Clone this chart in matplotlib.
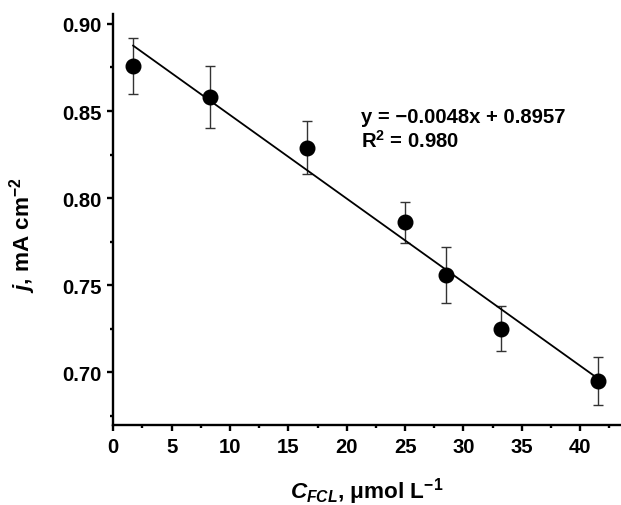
import numpy as np
import matplotlib.pyplot as plt
from matplotlib.ticker import MultipleLocator

plt.rcParams['font.family'] = 'Liberation Sans'
plt.rcParams['font.weight'] = 'bold'
plt.rcParams['mathtext.fontset'] = 'custom'
plt.rcParams['mathtext.rm'] = 'Liberation Sans:bold'
plt.rcParams['mathtext.it'] = 'Liberation Sans:bold:italic'
plt.rcParams['mathtext.bf'] = 'Liberation Sans:bold'

# data
conc = [1.7, 8.3, 16.6, 25.0, 28.5, 33.2, 41.5]
j = [0.876, 0.858, 0.829, 0.786, 0.756, 0.725, 0.695]
j_err = [0.016, 0.018, 0.015, 0.012, 0.016, 0.013, 0.014]
slope, intercept = -0.0048, 0.8957

fig = plt.figure(figsize=(6.21, 5.06), dpi=100)
ax = fig.add_axes([113.3/621, 1-426/506, 1-113.3/621, (426-15)/506])

ax.errorbar(conc, j, yerr=j_err, fmt='none', ecolor='#333333', elinewidth=1.0,
            capsize=3.5, capthick=1.0, zorder=2)
ax.plot(conc, j, 'o', color='black', markersize=10.5, zorder=3)
xf = np.array([conc[0], conc[-1]])
ax.plot(xf, slope*xf + intercept, '-', color='black', lw=1.3, zorder=2)

ax.text(21.2, 0.847, 'y = \u22120.0048x + 0.8957', fontsize=14.6, fontweight='bold', va='center')
ax.text(21.2, 0.8335, r'R$^2$ = 0.980', fontsize=14.6, fontweight='bold', va='center')

ax.set_xlim(0, 43.5)
ax.set_ylim(0.6697, 0.9057)
ax.xaxis.set_major_locator(MultipleLocator(5))
ax.xaxis.set_minor_locator(MultipleLocator(2.5))
ax.yaxis.set_major_locator(MultipleLocator(0.05))
ax.yaxis.set_minor_locator(MultipleLocator(0.025))
ax.set_yticks([0.70, 0.75, 0.80, 0.85, 0.90])
ax.set_yticklabels(['0.70', '0.75', '0.80', '0.85', '0.90'])

for s in ['top', 'right']:
    ax.spines[s].set_visible(False)
for s in ['left', 'bottom']:
    ax.spines[s].set_linewidth(1.7)
ax.tick_params(which='major', direction='out', length=4.5, width=1.7, labelsize=14.6, pad=4)
ax.tick_params(which='minor', direction='out', length=2.5, width=1.7)

ax.set_xlabel(r'$C_{FCL}$, μmol L$^{-1}$', fontsize=16.2, fontweight='bold', labelpad=14)
ax.set_ylabel(r'$j$, mA cm$^{-2}$', fontsize=16.2, fontweight='bold')
ax.yaxis.set_label_coords(-0.148, 0.465)

fig.savefig('out.png', dpi=100)
